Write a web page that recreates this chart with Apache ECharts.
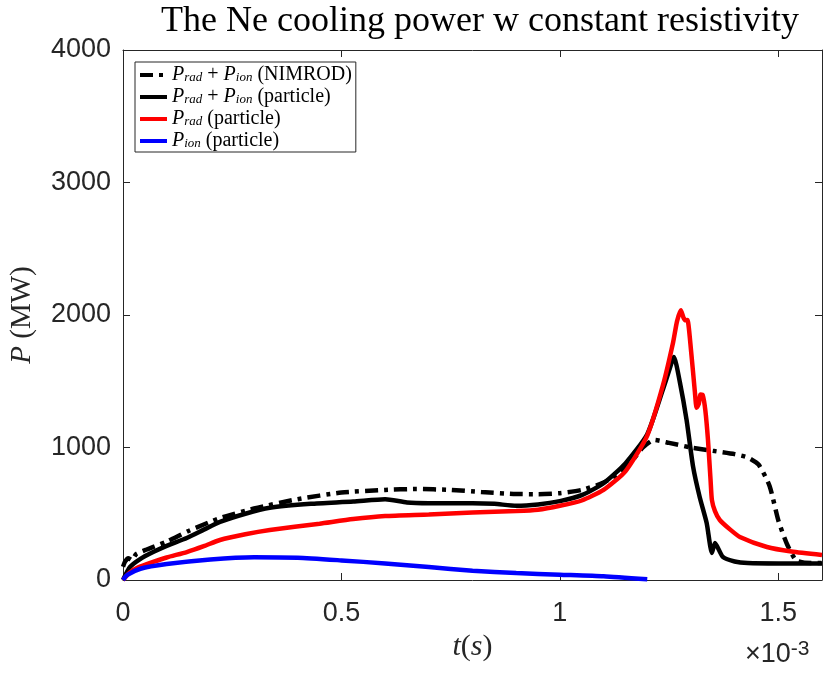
<!DOCTYPE html>
<html>
<head>
<meta charset="utf-8">
<script src="https://cdn.jsdelivr.net/npm/echarts@6/dist/echarts.min.js"></script>
<style>html,body{margin:0;padding:0;background:#fff}#c{width:823px;height:673px}</style>
</head>
<body>
<div id="c"></div>
<script>
// time in units of 1e-3 s, power in MW
var tNimrod = [0, 0.005, 0.012, 0.02, 0.03, 0.05, 0.1, 0.15, 0.22, 0.3, 0.4, 0.5, 0.6, 0.67, 0.75, 0.82, 0.9, 0.95, 1.0, 1.05, 1.1, 1.15, 1.19, 1.215, 1.25, 1.3, 1.35, 1.4, 1.43, 1.455, 1.48, 1.5, 1.52, 1.54, 1.56, 1.6];
var pNimrod = [100, 140, 165, 150, 195, 225, 290, 370, 465, 540, 610, 660, 680, 687, 680, 664, 649, 648, 655, 680, 735, 840, 1000, 1057, 1035, 1000, 975, 950, 925, 870, 710, 450, 270, 150, 130, 128];

var tTotal = [0, 0.016, 0.04, 0.069, 0.1, 0.146, 0.185, 0.222, 0.28, 0.336, 0.43, 0.527, 0.6, 0.65, 0.7, 0.8, 0.85, 0.9, 0.95, 1.0, 1.05, 1.1, 1.15, 1.2, 1.236, 1.25, 1.261, 1.275, 1.29, 1.305, 1.32, 1.336, 1.348, 1.355, 1.373, 1.4, 1.43, 1.5, 1.6];
var pTotal = [0, 98, 160, 211, 258, 317, 380, 438, 500, 545, 575, 592, 610, 585, 580, 580, 575, 560, 570, 595, 640, 730, 880, 1100, 1440, 1580, 1683, 1487, 1208, 853, 626, 430, 204, 279, 174, 140, 128, 125, 125];

var tRad = [0, 0.015, 0.035, 0.069, 0.1, 0.146, 0.185, 0.222, 0.28, 0.336, 0.45, 0.527, 0.6, 0.7, 0.8, 0.9, 0.95, 1.0, 1.05, 1.1, 1.15, 1.2, 1.236, 1.259, 1.268, 1.277, 1.283, 1.288, 1.292, 1.3, 1.309, 1.313, 1.318, 1.322, 1.327, 1.333, 1.339, 1.345, 1.348, 1.355, 1.366, 1.39, 1.412, 1.474, 1.53, 1.6];
var pRad = [0, 55, 95, 136, 170, 211, 255, 302, 345, 377, 425, 460, 483, 495, 510, 520, 530, 560, 600, 680, 820, 1090, 1470, 1790, 1950, 2035, 1980, 1960, 1962, 1740, 1420, 1300, 1330, 1400, 1396, 1280, 1057, 750, 604, 520, 453, 380, 325, 249, 215, 189];

var tIon = [0, 0.01, 0.04, 0.1, 0.2, 0.3, 0.4, 0.5, 0.6, 0.7, 0.8, 0.9, 1.0, 1.1, 1.2];
var pIon = [0, 38, 85, 120, 155, 172, 168, 148, 125, 98, 70, 52, 40, 28, 5];

var xTicks = [0, 0.5, 1, 1.5];
var yTicks = [0, 1000, 2000, 3000, 4000];

function zip(a, b) { return a.map(function (v, i) { return [v, b[i]]; }); }

var axisColor = '#262626';
var sans = '"Liberation Sans", Arial, sans-serif';
var serif = '"Liberation Serif", "Times New Roman", serif';

var legendNames = {
  nimrod: '{i|P}{s|rad}{n| + }{i|P}{s|ion}{n| (NIMROD)}',
  particle: '{i|P}{s|rad}{n| + }{i|P}{s|ion}{n| (particle)}',
  rad: '{i|P}{s|rad}{n| (particle)}',
  ion: '{i|P}{s|ion}{n| (particle)}'
};

function mkX(pos, labels) {
  return {
    type: 'value', position: pos, min: 0, max: 1.6, interval: 0.5,
    axisLine: { show: true, onZero: false, lineStyle: { color: axisColor, width: 1 } },
    axisTick: { show: true, inside: true, length: 7, lineStyle: { color: axisColor } },
    splitLine: { show: false },
    axisLabel: labels ? {
      show: true, color: axisColor, fontFamily: sans, fontSize: 27, margin: 20,
      showMaxLabel: false,
      formatter: function (v) {
        for (var i = 0; i < xTicks.length; i++) if (Math.abs(xTicks[i] - v) < 1e-9) return String(xTicks[i]);
        return '';
      }
    } : { show: false }
  };
}
function mkY(pos, labels) {
  return {
    type: 'value', position: pos, min: 0, max: 4000, interval: 1000,
    axisLine: { show: true, onZero: false, lineStyle: { color: axisColor, width: 1 } },
    axisTick: { show: true, inside: true, length: 7, lineStyle: { color: axisColor } },
    splitLine: { show: false },
    axisLabel: labels ? {
      show: true, color: axisColor, fontFamily: sans, fontSize: 27, margin: 12,
      padding: [8, 0, 0, 0],
      formatter: function (v) { return yTicks.indexOf(v) >= 0 ? String(v) : ''; }
    } : { show: false }
  };
}

var xMain = mkX('bottom', true);
xMain.name = '{i|t}{n|(}{i|s}{n|)}';
xMain.nameLocation = 'middle';
xMain.nameGap = 50;
xMain.nameTextStyle = {
  rich: {
    i: { fontFamily: serif, fontStyle: 'italic', fontSize: 30, color: axisColor },
    n: { fontFamily: serif, fontSize: 30, color: axisColor }
  }
};
var yMain = mkY('left', true);
yMain.name = '{i|P}{n| (MW)}';
yMain.nameLocation = 'middle';
yMain.nameGap = 86;
yMain.nameTextStyle = {
  rich: {
    i: { fontFamily: serif, fontStyle: 'italic', fontSize: 29, color: axisColor },
    n: { fontFamily: serif, fontSize: 29, color: axisColor }
  }
};

var lineCommon = { type: 'line', showSymbol: false, symbol: 'none', smooth: 0.2 };
function mkSeries(name, data, style, z) {
  return Object.assign({}, lineCommon, { name: name, data: data, lineStyle: style, itemStyle: { color: style.color }, z: z });
}

var chart = echarts.init(document.getElementById('c'), null, { renderer: 'canvas' });
chart.setOption({
  animation: false,
  backgroundColor: '#fff',
  title: {
    text: 'The Ne cooling power w constant resistivity',
    left: 475, top: -1, textAlign: 'center',
    textStyle: { fontFamily: serif, fontWeight: 'normal', fontSize: 36, color: '#000' }
  },
  grid: { left: 123, right: 1, top: 50, bottom: 93, containLabel: false },
  xAxis: [xMain, mkX('top', false)],
  yAxis: [yMain, mkY('right', false)],
  legend: {
    orient: 'vertical', left: 135, top: 62,
    padding: [3, 4, 1, 3], itemGap: 2, itemWidth: 27, itemHeight: 14,
    backgroundColor: '#fff', borderColor: axisColor, borderWidth: 1,
    itemStyle: { opacity: 0 },
    lineStyle: { width: 4 },
    data: ['nimrod', 'particle', 'rad', 'ion'],
    formatter: function (n) { return legendNames[n]; },
    textStyle: {
      color: '#000',
      rich: {
        i: { fontFamily: serif, fontStyle: 'italic', fontSize: 20, lineHeight: 18, verticalAlign: 'middle' },
        n: { fontFamily: serif, fontSize: 20, lineHeight: 18, verticalAlign: 'middle' },
        s: { fontFamily: serif, fontStyle: 'italic', fontSize: 13, lineHeight: 9, verticalAlign: 'bottom' }
      }
    }
  },
  graphic: [{
    type: 'text', left: 745, top: 639,
    style: {
      text: '×10{sup|-3}', fill: axisColor, font: '27px ' + sans,
      rich: { sup: { fontFamily: sans, fontSize: 21, verticalAlign: 'top', lineHeight: 32 } }
    }
  }],
  series: [
    mkSeries('nimrod', zip(tNimrod, pNimrod), { color: '#000', width: 4.5, type: [13, 6, 4, 6], cap: 'butt' }, 3),
    mkSeries('particle', zip(tTotal, pTotal), { color: '#000', width: 4.5 }, 4),
    mkSeries('rad', zip(tRad, pRad), { color: '#ff0000', width: 4.5 }, 5),
    mkSeries('ion', zip(tIon, pIon), { color: '#0000ff', width: 4.5 }, 6)
  ]
});
</script>
</body>
</html>
